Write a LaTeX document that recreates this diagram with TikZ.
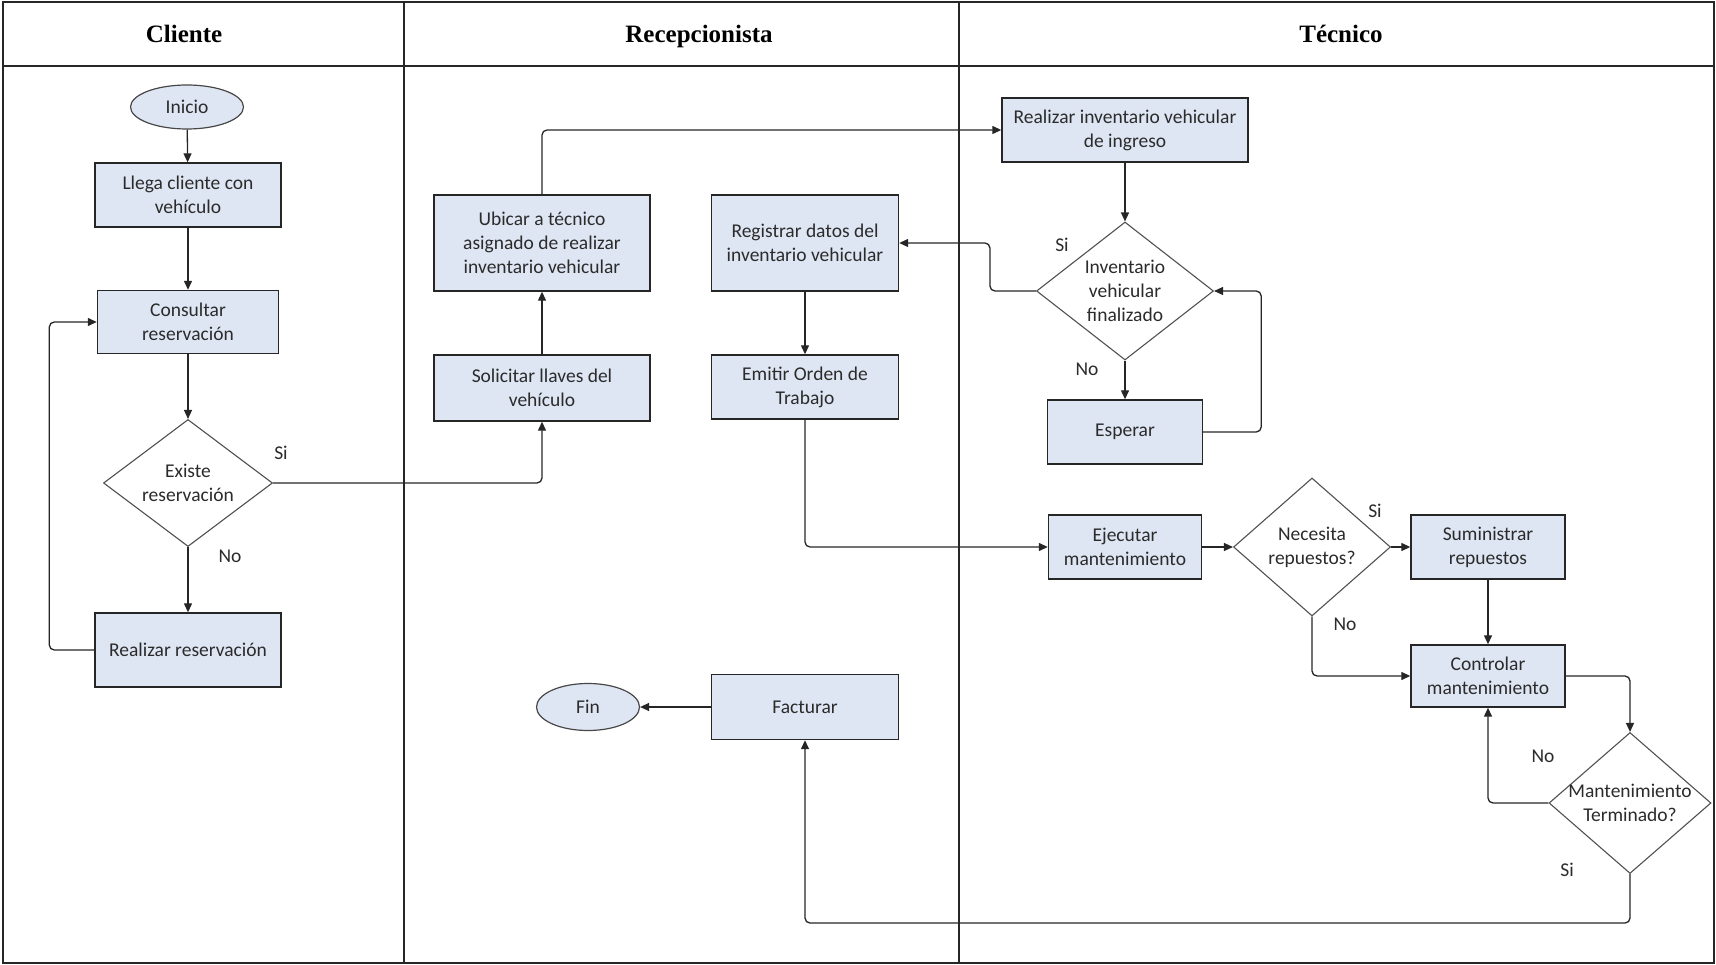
\documentclass[tikz,border=0pt]{standalone}
\usepackage{fontspec}
\setmainfont{Carlito}
\newfontfamily\headfont{Liberation Serif}
\usetikzlibrary{shapes.geometric,arrows.meta}
\definecolor{boxfill}{HTML}{DFE6F3}
\definecolor{txt}{HTML}{2B2B2B}
\definecolor{edge}{HTML}{262626}

\begin{document}
\begin{tikzpicture}[x=1pt,y=-1pt,
  every node/.style={font=\fontsize{19.5}{24}\selectfont, text=txt},
  proc/.style={draw=edge, fill=boxfill, line width=1.4pt, align=center, inner sep=0pt},
  term/.style={ellipse, draw=edge!85, fill=boxfill, line width=1.2pt, inner sep=0pt},
  decision/.style={diamond, draw=edge!80, fill=white, line width=1.1pt, inner sep=0pt},
  dtext/.style={align=center, inner sep=0pt},
  flow/.style={draw=edge, line width=1.3pt, rounded corners=5pt, -{Triangle[length=9pt,width=8pt]}},
  lane/.style={draw=edge, line width=1.6pt},
  lanehead/.style={font=\headfont\bfseries\fontsize{25}{28}\selectfont, text=black, anchor=base},
  tag/.style={inner sep=0pt}
]
\useasboundingbox (0,0) rectangle (1716,965);

% swimlane frame
\draw[lane] (3,2) rectangle (1714,963);
\draw[lane] (3,66) -- (1714,66);
\draw[lane] (404,2) -- (404,963);
\draw[lane] (959,2) -- (959,963);
\node[lanehead] (hcli) at (184,43) {Cliente};
\node[lanehead] (hrec) at (699,43) {Recepcionista};
\node[lanehead] (htec) at (1341,43) {Técnico};

% Cliente
\node[term, minimum width=113, minimum height=44] (inicio) at (187,107) {Inicio};
\node[proc, minimum width=186, minimum height=64] (llega) at (188,195) {Llega cliente con\\vehículo};
\node[proc, minimum width=181, minimum height=63] (consultar) at (188,322) {Consultar\\reservación};
\node[decision, minimum width=169, minimum height=127] (existe) at (188,483) {};
\node[dtext] (existet) at (existe.center) {Existe\\reservación};
\node[proc, minimum width=186, minimum height=74] (realizarres) at (188,650) {Realizar reservación};

% Recepcionista
\node[proc, minimum width=216, minimum height=96] (ubicar) at (542,243) {Ubicar a técnico\\asignado de realizar\\inventario vehicular};
\node[proc, minimum width=216, minimum height=66] (solicitar) at (542,388) {Solicitar llaves del\\vehículo};
\node[proc, minimum width=187, minimum height=96] (registrar) at (805,243) {Registrar datos del\\inventario vehicular};
\node[proc, minimum width=187, minimum height=64] (emitir) at (805,387) {Emitir Orden de\\Trabajo};
\node[proc, minimum width=187, minimum height=65] (facturar) at (805,707) {Facturar};
\node[term, minimum width=103, minimum height=47] (fin) at (588,707) {Fin};

% Técnico
\node[proc, minimum width=246, minimum height=64] (realizarinv) at (1125,130) {Realizar inventario vehicular\\de ingreso};
\node[decision, minimum width=177, minimum height=138] (inv) at (1125,291) {};
\node[dtext] (invt) at (inv.center) {Inventario\\vehicular\\finalizado};
\node[proc, minimum width=155, minimum height=64] (esperar) at (1125,432) {Esperar};
\node[proc, minimum width=153, minimum height=64] (ejecutar) at (1125,547) {Ejecutar\\mantenimiento};
\node[decision, minimum width=157, minimum height=138] (necesita) at (1312,547) {};
\node[dtext] (necesitat) at (necesita.center) {Necesita\\repuestos?};
\node[proc, minimum width=154, minimum height=64] (suministrar) at (1488,547) {Suministrar\\repuestos};
\node[proc, minimum width=154, minimum height=62] (controlar) at (1488,676) {Controlar\\mantenimiento};
\node[decision, minimum width=162, minimum height=141] (mant) at (1630,803) {};
\node[dtext] (mantt) at (mant.center) {Mantenimiento\\Terminado?};

% branch labels
\node[tag] (siA) at (281,453) {Si};
\node[tag] (noA) at (230,556) {No};
\node[tag] (siB) at (1062,245) {Si};
\node[tag] (noB) at (1087,369) {No};
\node[tag] (siC) at (1375,511) {Si};
\node[tag] (noC) at (1345,624) {No};
\node[tag] (noD) at (1543,756) {No};
\node[tag] (siD) at (1567,870) {Si};

% connectors
\draw[flow] (inicio) -- (llega);
\draw[flow] (llega) -- (consultar);
\draw[flow] (consultar) -- (existe.north);
\draw[flow] (existe.south) -- (realizarres.north);
\draw[flow] (realizarres.west) -- ++(-45,0) |- (consultar.west);
\draw[flow] (existe.east) -| (solicitar.south);
\draw[flow] (solicitar) -- (ubicar);
\draw[flow] (ubicar.north) |- (realizarinv.west);
\draw[flow] (realizarinv) -- (inv.north);
\draw[flow] (inv.west) -- ++(-46,0) |- (registrar.east);
\draw[flow] (inv.south) -- (esperar.north);
\draw[flow] (esperar.east) -- ++(58,0) |- (inv.east);
\draw[flow] (registrar) -- (emitir);
\draw[flow] (emitir.south) |- (ejecutar.west);
\draw[flow] (ejecutar) -- (necesita.west);
\draw[flow] (necesita.east) -- (suministrar.west);
\draw[flow] (suministrar) -- (controlar);
\draw[flow] (necesita.south) |- (controlar.west);
\draw[flow] (controlar.east) -| (mant.north);
\draw[flow] (mant.west) -| (controlar.south);
\draw[flow] (mant.south) -- ++(0,49) -| (facturar.south);
\draw[flow] (facturar.west) -- (fin.east);
\end{tikzpicture}
\end{document}
